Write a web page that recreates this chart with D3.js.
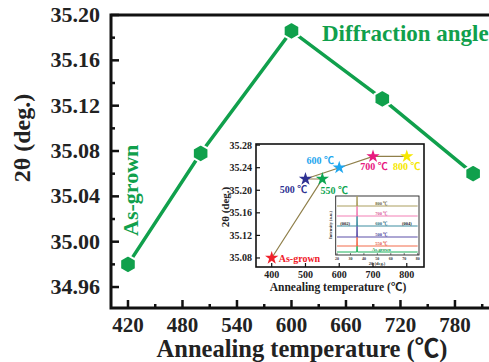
<!DOCTYPE html>
<html>
<head>
<meta charset="utf-8">
<script src="https://cdn.jsdelivr.net/npm/d3@7"></script>
<style>
  body { margin: 0; background: #fff; }
  svg { display: block; font-family: "Liberation Serif", "Times New Roman", "Noto Sans CJK SC", serif; font-weight: bold; }
</style>
</head>
<body>
<svg id="chart" width="489" height="362"></svg>
<script>
// main chart: diffraction angle vs annealing temperature
const mainTemps = [420, 500, 600, 700, 800];
const mainAngles = [34.98, 35.078, 35.186, 35.126, 35.06];
const mainXTicks = [420, 480, 540, 600, 660, 720, 780];
const mainYTicks = [34.96, 35.00, 35.04, 35.08, 35.12, 35.16, 35.20];

// inset: (002) peak position
const insetNames = ["As-grown", "500 \u2103", "550 \u2103", "600 \u2103", "700 \u2103", "800 \u2103"];
const insetTemps = [400, 500, 550, 600, 700, 800];
const insetAngles = [35.08, 35.22, 35.22, 35.24, 35.26, 35.26];
const insetLineOrder = [0, 2, 1, 3, 4, 5];
const insetXTicks = [400, 500, 600, 700, 800];
const insetYTicks = [35.08, 35.12, 35.16, 35.20, 35.24, 35.28];

// nested inset: XRD patterns (bottom to top)
const xrdNames = ["As-grown", "550 \u2103", "500 \u2103", "600 \u2103", "700 \u2103", "800 \u2103"];
const xrdTheta = [20, 34.6, 34.9, 35.2, 80];
const xrdOffsets = [3, 9, 18, 29, 39, 49];
const xrdPeaks = [6, 9, 11, 10, 10, 10];
const xrdXTicks = [20, 30, 40, 50, 60, 70, 80];

const green = "#10a04c";
const svg = d3.select("#chart");

// ---------- main plot ----------
const x = d3.scaleLinear().domain([401.3, 851.6]).range([111, 520]);
const y = d3.scaleLinear().domain([34.9415, 35.20]).range([308, 15]);

const g = svg.append("g");

// frame: left, bottom, top (right edge is cut off)
g.append("path")
  .attr("d", "M" + x.range()[1] + "," + y.range()[1] + "H" + x.range()[0] + "V" + y.range()[0] + "H" + x.range()[1])
  .attr("fill", "none").attr("stroke", "#111").attr("stroke-width", 3);

// ticks (inward)
const minorX = d3.range(450, 851, 60);
g.selectAll(".xt").data(mainXTicks).enter().append("line")
  .attr("x1", d => x(d)).attr("x2", d => x(d))
  .attr("y1", 308).attr("y2", 300)
  .attr("stroke", "#111").attr("stroke-width", 2.5);
g.selectAll(".xm").data(minorX).enter().append("line")
  .attr("x1", d => x(d)).attr("x2", d => x(d))
  .attr("y1", 308).attr("y2", 304)
  .attr("stroke", "#111").attr("stroke-width", 2.5);
g.selectAll(".xl").data(mainXTicks).enter().append("text")
  .attr("x", d => x(d)).attr("y", 332)
  .attr("text-anchor", "middle").attr("font-size", 21).attr("fill", "#222")
  .text(d => d);

const minorY = d3.range(34.98, 35.20, 0.04);
g.selectAll(".yt").data(mainYTicks).enter().append("line")
  .attr("x1", 111).attr("x2", 119)
  .attr("y1", d => y(d)).attr("y2", d => y(d))
  .attr("stroke", "#111").attr("stroke-width", 2.5);
g.selectAll(".ym").data(minorY).enter().append("line")
  .attr("x1", 111).attr("x2", 115)
  .attr("y1", d => y(d)).attr("y2", d => y(d))
  .attr("stroke", "#111").attr("stroke-width", 2.5);
g.selectAll(".yl").data(mainYTicks).enter().append("text")
  .attr("x", 100).attr("y", d => y(d) + 7)
  .attr("text-anchor", "end").attr("font-size", 22).attr("fill", "#222")
  .text(d => d.toFixed(2));

// axis titles
g.append("text").attr("x", 302).attr("y", 357)
  .attr("text-anchor", "middle").attr("font-size", 24.5).attr("fill", "#222")
  .text("Annealing temperature (\u2103)");
g.append("text").attr("transform", "translate(30,138) rotate(-90)")
  .attr("text-anchor", "middle").attr("font-size", 24).attr("fill", "#222")
  .text("2\u03b8 (deg.)");

// data line + hexagon markers
const mainData = mainTemps.map((t, i) => ({ t: t, v: mainAngles[i] }));
g.append("path").datum(mainData)
  .attr("fill", "none").attr("stroke", green).attr("stroke-width", 3.5)
  .attr("d", d3.line().x(d => x(d.t)).y(d => y(d.v)));

const hexR = 9;
const hex = d3.range(6).map(k => {
  const a = Math.PI / 6 + k * Math.PI / 3;
  return [hexR * Math.cos(a), hexR * Math.sin(a)];
});
g.selectAll(".hex").data(mainData).enter().append("path")
  .attr("transform", d => "translate(" + x(d.t) + "," + y(d.v) + ")")
  .attr("d", "M" + hex.join("L") + "Z")
  .attr("fill", green).attr("stroke", "#fff").attr("stroke-width", 2);

g.append("text").attr("x", 322).attr("y", 41)
  .attr("font-size", 23).attr("fill", green).text("Diffraction angle");
g.append("text").attr("transform", "translate(138,236) rotate(-90)")
  .attr("font-size", 22).attr("fill", green).text("As-grown");

// ---------- inset ----------
const ix = d3.scaleLinear().domain([353.5, 851]).range([256, 424]);
const iy = d3.scaleLinear().domain([35.064, 35.282]).range([267, 144]);
const ig = svg.append("g");
ig.append("rect").attr("x", 256).attr("y", 144).attr("width", 168).attr("height", 123)
  .attr("fill", "#fff").attr("stroke", "#111").attr("stroke-width", 1.6);

ig.selectAll(".ixt").data(insetXTicks).enter().append("line")
  .attr("x1", d => ix(d)).attr("x2", d => ix(d)).attr("y1", 267).attr("y2", 263)
  .attr("stroke", "#111").attr("stroke-width", 1.2);
ig.selectAll(".ixl").data(insetXTicks).enter().append("text")
  .attr("x", d => ix(d)).attr("y", 277.5).attr("text-anchor", "middle")
  .attr("font-size", 10).attr("fill", "#222").text(d => d);
ig.selectAll(".iyt").data(insetYTicks).enter().append("line")
  .attr("x1", 256).attr("x2", 260).attr("y1", d => iy(d)).attr("y2", d => iy(d))
  .attr("stroke", "#111").attr("stroke-width", 1.2);
ig.selectAll(".iyl").data(insetYTicks).enter().append("text")
  .attr("x", 252).attr("y", d => iy(d) + 3.5).attr("text-anchor", "end")
  .attr("font-size", 10).attr("fill", "#222").text(d => d.toFixed(2));
ig.append("text").attr("x", 338).attr("y", 290.5).attr("text-anchor", "middle")
  .attr("font-size", 11.5).attr("fill", "#222").text("Annealing temperature (\u2103)");
ig.append("text").attr("transform", "translate(229,207) rotate(-90)")
  .attr("text-anchor", "middle").attr("font-size", 11).attr("fill", "#222")
  .text("2\u03b8 (deg.)");

const insetColors = ["#f0202a", "#2e3192", "#0ea552", "#1ea6ee", "#e8197f", "#f6e800"];
const insetData = insetTemps.map((t, i) => ({ t: t, v: insetAngles[i], name: insetNames[i], c: insetColors[i] }));
ig.append("path").datum(insetLineOrder.map(i => insetData[i]))
  .attr("fill", "none").attr("stroke", "#8f7f4a").attr("stroke-width", 1.2)
  .attr("d", d3.line().x(d => ix(d.t)).y(d => iy(d.v)));
ig.selectAll(".star").data(insetData).enter().append("path")
  .attr("transform", d => "translate(" + ix(d.t) + "," + iy(d.v) + ")")
  .attr("d", d3.symbol().type(d3.symbolStar).size(55))
  .attr("fill", d => d.c);

const labelOffsets = [[7, 4, "start"], [-12, 14, "middle"], [12, 15, "middle"], [-19, -4, "middle"], [1, 14, "middle"], [0, 14, "middle"]];
ig.selectAll(".slab").data(insetData).enter().append("text")
  .attr("x", (d, i) => ix(d.t) + labelOffsets[i][0])
  .attr("y", (d, i) => iy(d.v) + labelOffsets[i][1])
  .attr("text-anchor", (d, i) => labelOffsets[i][2])
  .attr("font-size", 10).attr("fill", d => d.c).text(d => d.name);

// ---------- nested XRD inset ----------
const nx = d3.scaleLinear().domain([19, 81]).range([335.7, 419]);
const ny = d3.scaleLinear().domain([0, 59]).range([255, 196]);
const ng = svg.append("g");
ng.append("rect").attr("x", 335.7).attr("y", 196).attr("width", 83.3).attr("height", 59)
  .attr("fill", "#fff").attr("stroke", "#222").attr("stroke-width", 0.9);
const xrdColors = ["#1db15a", "#f26b4b", "#5b4ea8", "#3d8da0", "#f27eb5", "#ab9e5e"];
const xrdLabelColors = ["#1a9a50", "#e0503a", "#4a3e98", "#2d6d80", "#d85a98", "#6d6440"];
xrdNames.forEach((name, i) => {
  const pts = xrdTheta.map((t, k) => [t, xrdOffsets[i] + (k === 2 ? xrdPeaks[i] : 0)]);
  ng.append("path").datum(pts)
    .attr("fill", "none").attr("stroke", xrdColors[i]).attr("stroke-width", 1)
    .attr("d", d3.line().x(d => nx(d[0])).y(d => ny(d[1])));
  ng.append("text").attr("x", nx(53)).attr("y", ny(xrdOffsets[i]) - 1.5)
    .attr("text-anchor", "middle").attr("font-size", 4.5).attr("fill", xrdLabelColors[i])
    .text(name);
});
ng.append("text").attr("x", nx(26)).attr("y", ny(xrdOffsets[3]) - 1.5)
  .attr("text-anchor", "middle").attr("font-size", 4.5).attr("fill", "#222").text("(002)");
ng.append("text").attr("x", nx(72)).attr("y", ny(xrdOffsets[3]) - 1.5)
  .attr("text-anchor", "middle").attr("font-size", 4.5).attr("fill", "#222").text("(004)");
ng.selectAll(".nxt").data(xrdXTicks).enter().append("line")
  .attr("x1", d => nx(d)).attr("x2", d => nx(d)).attr("y1", 255).attr("y2", 253)
  .attr("stroke", "#222").attr("stroke-width", 0.6);
ng.selectAll(".nxl").data(xrdXTicks).enter().append("text")
  .attr("x", d => nx(d)).attr("y", 259.5).attr("text-anchor", "middle")
  .attr("font-size", 4).attr("fill", "#333").text(d => d);
ng.append("text").attr("x", 377).attr("y", 264.5).attr("text-anchor", "middle")
  .attr("font-size", 4.5).attr("fill", "#333").text("2\u03b8 (deg.)");
ng.append("text").attr("transform", "translate(332,225) rotate(-90)")
  .attr("text-anchor", "middle").attr("font-size", 4.5).attr("fill", "#333")
  .text("Intensity (a.u.)");
</script>
</body>
</html>
